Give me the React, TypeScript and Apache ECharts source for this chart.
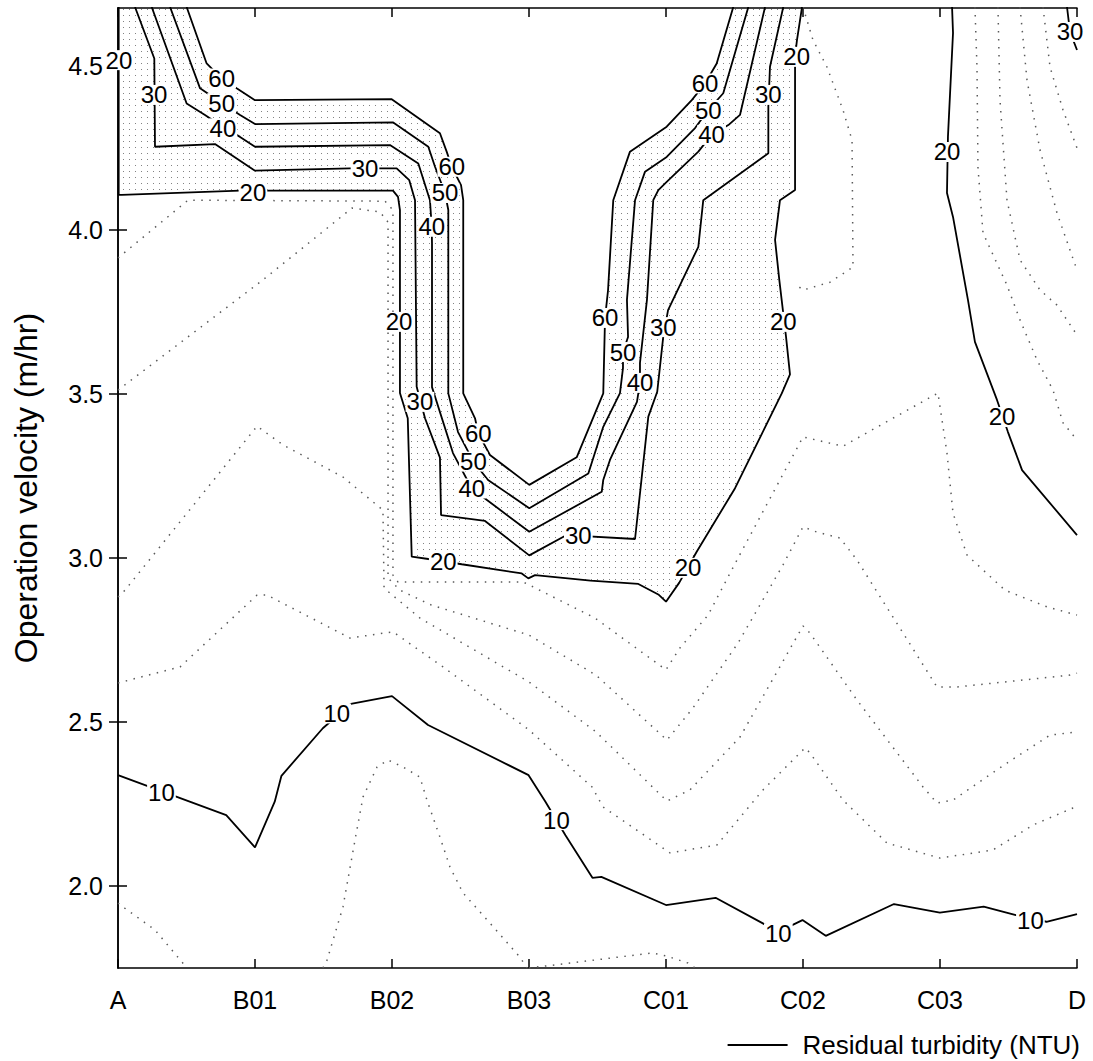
import React, { useEffect, useRef } from 'react';
import * as echarts from 'echarts';

// Sampling sites along the x axis and velocity tick values
const sites = ['A', 'B01', 'B02', 'B03', 'C01', 'C02', 'C03', 'D'];
const velocityTicks = [2.0, 2.5, 3.0, 3.5, 4.0, 4.5];
const velocityMin = 1.75;
const velocityMax = 4.677;

const LEGEND = 'Residual turbidity (NTU)';

// Labelled contours (every 10 NTU): [site position, velocity]
const c10 = [
  [0, 2.338], [0.79, 2.216], [1.0, 2.118], [1.144, 2.257], [1.193, 2.336], [1.495, 2.481],
  [1.7, 2.555], [2.0, 2.579], [2.263, 2.491], [2.997, 2.338], [3.12, 2.257], [3.266, 2.155],
  [3.463, 2.025], [3.528, 2.028], [4.0, 1.942], [4.362, 1.964], [4.707, 1.886], [4.82, 1.86],
  [4.996, 1.896], [5.166, 1.848], [5.664, 1.945], [5.999, 1.919], [6.319, 1.937], [6.554, 1.911],
  [6.777, 1.891], [7.0, 1.914],
];
const c20 = [
  [0.005, 4.68], [0.005, 4.107], [0.027, 4.107], [0.891, 4.12], [2.007, 4.12], [2.044, 4.101],
  [2.058, 4.061], [2.058, 3.503], [2.115, 3.426], [2.144, 3.004], [2.265, 2.997], [2.509, 2.981],
  [2.947, 2.953], [2.995, 2.938], [3.044, 2.948], [3.449, 2.931], [3.798, 2.921], [3.944, 2.889],
  [4.0, 2.867], [4.097, 2.925], [4.224, 3.019], [4.504, 3.213], [4.845, 3.502], [4.905, 3.56],
  [4.876, 3.675], [4.827, 3.848], [4.796, 3.97], [4.832, 4.091], [4.942, 4.122], [4.942, 4.53],
  [4.956, 4.579], [4.993, 4.68],
];
const c20East = [
  [6.088, 4.68], [6.095, 4.601], [6.058, 4.284], [6.051, 4.113], [6.095, 4.04], [6.204, 3.787],
  [6.255, 3.659], [6.416, 3.482], [6.496, 3.384], [6.599, 3.268], [7.0, 3.07],
];
const c30 = [
  [0.124, 4.68], [0.265, 4.523], [0.27, 4.254], [0.708, 4.262], [1.0, 4.181], [1.693, 4.188],
  [2.034, 4.188], [2.126, 4.152], [2.168, 4.091], [2.18, 3.522], [2.241, 3.426], [2.35, 3.306],
  [2.358, 3.131], [2.679, 3.113], [3.002, 3.008], [3.275, 3.07], [3.774, 3.058], [3.871, 3.431],
  [3.936, 3.507], [3.98, 3.675], [4.015, 3.756], [4.236, 3.949], [4.272, 4.091], [4.747, 4.234],
  [4.747, 4.376], [4.759, 4.498], [4.856, 4.68],
];
const c30East = [[6.927, 4.68], [6.949, 4.604], [7.0, 4.549]];
const c40 = [
  [0.246, 4.68], [0.501, 4.386], [0.635, 4.351], [0.766, 4.314], [0.891, 4.284], [1.0, 4.254],
  [1.985, 4.259], [2.192, 4.203], [2.277, 4.091], [2.29, 4.01], [2.292, 3.959], [2.292, 3.521],
  [2.445, 3.32], [2.582, 3.212], [2.693, 3.177], [3.002, 3.08], [3.531, 3.202], [3.542, 3.238],
  [3.591, 3.299], [3.788, 3.476], [3.81, 3.534], [3.81, 3.595], [3.861, 3.787], [3.907, 4.091],
  [3.944, 4.122], [4.005, 4.147], [4.236, 4.239], [4.333, 4.29], [4.455, 4.32], [4.54, 4.351],
  [4.723, 4.68],
];
const c50 = [
  [0.38, 4.68], [0.599, 4.432], [0.757, 4.387], [0.891, 4.351], [1.0, 4.323], [2.009, 4.328],
  [2.265, 4.254], [2.314, 4.193], [2.387, 4.113], [2.411, 4.061], [2.411, 3.502], [2.482, 3.384],
  [2.594, 3.294], [2.701, 3.238], [3.002, 3.152], [3.433, 3.258], [3.542, 3.4], [3.664, 3.503],
  [3.686, 3.579], [3.686, 3.628], [3.723, 3.674], [3.715, 3.787], [3.774, 4.091], [3.847, 4.178],
  [4.005, 4.223], [4.212, 4.311], [4.309, 4.366], [4.418, 4.417], [4.601, 4.68],
];
const c60 = [
  [0.501, 4.68], [0.647, 4.508], [0.757, 4.462], [0.866, 4.432], [1.0, 4.396], [1.998, 4.399],
  [2.35, 4.295], [2.399, 4.239], [2.436, 4.193], [2.504, 4.137], [2.52, 4.091], [2.52, 3.502],
  [2.606, 3.426], [2.63, 3.38], [2.715, 3.314], [3.002, 3.223], [3.348, 3.307], [3.542, 3.502],
  [3.555, 3.732], [3.577, 3.817], [3.615, 4.091], [3.737, 4.239], [4.005, 4.315], [4.188, 4.396],
  [4.285, 4.447], [4.37, 4.508], [4.491, 4.68],
];

// Intermediate contours (every 2 NTU) outside the dense band
const d8West = [[0, 1.948], [0.051, 1.932], [0.27, 1.866], [0.467, 1.768], [0.504, 1.75]];
const d8Mid = [
  [1.496, 1.75], [1.526, 1.774], [1.642, 1.936], [1.73, 2.14], [1.788, 2.271], [1.891, 2.363],
  [1.971, 2.384], [2.08, 2.363], [2.204, 2.332], [2.255, 2.262], [2.35, 2.149], [2.423, 2.058],
  [2.518, 1.979], [2.715, 1.887], [2.934, 1.783], [2.985, 1.75],
];
const d8East = [
  [3.0, 1.75], [3.299, 1.765], [3.591, 1.78], [3.898, 1.796], [4.0, 1.787], [4.161, 1.765], [4.212, 1.75],
];
const d12 = [
  [0, 2.619], [0.453, 2.668], [1.015, 2.887], [1.088, 2.887], [1.693, 2.756], [2.007, 2.775],
  [2.372, 2.668], [3.0, 2.476], [3.46, 2.302], [3.54, 2.241], [4.029, 2.101], [4.372, 2.125],
  [4.708, 2.293], [5.015, 2.421], [5.051, 2.406], [5.292, 2.262], [5.613, 2.131], [6.0, 2.085],
  [6.387, 2.11], [6.679, 2.186], [6.971, 2.238], [7.0, 2.241],
];
const d14 = [
  [0, 2.881], [0.051, 2.902], [1.015, 3.402], [1.204, 3.345], [1.642, 3.247], [1.934, 3.146],
  [1.942, 2.908], [2.204, 2.817], [3.0, 2.622], [3.489, 2.47], [4.007, 2.259], [4.175, 2.293],
  [4.54, 2.454], [5.0, 2.793], [5.051, 2.771], [5.394, 2.567], [5.876, 2.302], [5.978, 2.253],
  [6.095, 2.262], [6.489, 2.375], [6.803, 2.46], [7.0, 2.47],
];
const d16 = [
  [0, 3.512], [1.058, 3.848], [1.708, 4.067], [1.912, 4.055], [1.971, 4.024], [1.971, 2.939],
  [2.058, 2.902], [2.285, 2.857], [3.0, 2.765], [3.489, 2.643], [4.007, 2.445], [4.197, 2.543],
  [4.526, 2.741], [4.854, 2.979], [5.0, 3.095], [5.102, 3.079], [5.27, 3.061], [5.394, 2.994],
  [5.978, 2.607], [6.124, 2.607], [6.949, 2.643], [7.0, 2.649],
];
const d18 = [
  [0, 3.915], [0.511, 4.091], [1.949, 4.088], [2.007, 4.061], [2.007, 2.948], [2.044, 2.927],
  [2.956, 2.927], [3.044, 2.909], [3.482, 2.817], [4.0, 2.659], [4.102, 2.726], [4.307, 2.826],
  [4.518, 2.994], [5.0, 3.369], [5.292, 3.341], [5.985, 3.503], [6.051, 3.32], [6.095, 3.137],
  [6.197, 3.009], [6.474, 2.902], [6.781, 2.851], [7.0, 2.826],
];
const d18North = [
  [5.0, 4.68], [5.073, 4.579], [5.175, 4.497], [5.292, 4.366], [5.358, 4.274], [5.365, 3.887],
  [5.197, 3.841], [5.0, 3.817], [4.956, 3.832],
];
const d22 = [
  [6.255, 4.68], [6.27, 4.497], [6.277, 4.192], [6.314, 3.991], [6.438, 3.878], [6.489, 3.832],
  [6.584, 3.726], [6.708, 3.604], [6.825, 3.512], [6.898, 3.412], [7.0, 3.36],
];
const d24 = [
  [6.423, 4.68], [6.438, 4.396], [6.489, 4.091], [6.584, 3.909], [6.73, 3.817], [6.854, 3.771], [7.0, 3.68],
];
const d26 = [[6.584, 4.68], [6.635, 4.457], [6.73, 4.244], [6.854, 4.052], [7.0, 3.878]];
const d28 = [[6.752, 4.68], [6.803, 4.497], [6.898, 4.366], [7.0, 4.25]];

// Contour labels: [site position, velocity, level]
const contourLabels: [number, number, string][] = [
  [0.007, 4.518, '20'], [0.263, 4.412, '30'], [0.757, 4.462, '60'], [0.757, 4.387, '50'],
  [0.766, 4.31, '40'], [0.985, 4.113, '20'], [1.803, 4.189, '30'], [2.436, 4.193, '60'],
  [2.387, 4.113, '50'], [2.29, 4.01, '40'], [2.051, 3.72, '20'], [2.204, 3.476, '30'],
  [2.63, 3.38, '60'], [2.594, 3.294, '50'], [2.582, 3.212, '40'], [2.374, 2.989, '20'],
  [3.36, 3.07, '30'], [4.161, 2.97, '20'], [3.555, 3.732, '60'], [3.686, 3.628, '50'],
  [3.81, 3.534, '40'], [3.98, 3.704, '30'], [4.856, 3.72, '20'], [4.285, 4.447, '60'],
  [4.309, 4.366, '50'], [4.333, 4.29, '40'], [4.747, 4.412, '30'], [4.954, 4.528, '20'],
  [6.051, 4.238, '20'], [6.453, 3.43, '20'], [6.949, 4.604, '30'],
  [0.317, 2.284, '10'], [1.597, 2.526, '10'], [3.2, 2.201, '10'], [4.82, 1.856, '10'], [6.66, 1.896, '10'],
];

const FONT = '"Liberation Sans", Arial, Helvetica, sans-serif';

function stipplePattern() {
  const cv = document.createElement('canvas');
  cv.width = 6;
  cv.height = 6;
  const g = cv.getContext('2d');
  if (g) {
    g.fillStyle = '#828282';
    g.fillRect(3, 3, 1, 1);
  }
  return { image: cv.toDataURL(), repeat: 'repeat', imageWidth: 6, imageHeight: 6 };
}

export default function App() {
  const ref = useRef<HTMLDivElement>(null);

  useEffect(() => {
    document.body.style.margin = '0';
    const chart = echarts.init(ref.current as HTMLDivElement, null, { renderer: 'svg' });

    const solid = [c10, c20, c20East, c30, c30East, c40, c50, c60].map((d) => ({
      type: 'line',
      name: LEGEND,
      data: d,
      symbol: 'none',
      itemStyle: { color: '#000' },
      lineStyle: { color: '#000', width: 1.8 },
      z: 3,
    }));

    const dotted = [d8West, d8Mid, d8East, d12, d14, d16, d18, d18North, d22, d24, d26, d28].map(
      (d, i) => ({
        type: 'line',
        name: 'minor-' + i,
        data: d,
        symbol: 'none',
        lineStyle: { color: '#5a5a5a', width: 1.5, type: [1.5, 6.5] },
        z: 2,
      })
    );

    const band = [...c20, ...c60.slice().reverse()];
    const pattern = stipplePattern();

    const axisLine = { show: true, lineStyle: { color: '#000', width: 1.5 } };
    const axisTick = { show: true, inside: true, length: 9, lineStyle: { color: '#000', width: 1.5 } };

    chart.setOption({
      animation: false,
      backgroundColor: '#fff',
      grid: { left: 118, right: 16, top: 8, bottom: 93, containLabel: false },
      legend: {
        data: [LEGEND],
        right: 8,
        top: 1027,
        icon: 'path://M0 0H60V2H0Z',
        itemWidth: 60,
        itemHeight: 2,
        itemStyle: { color: '#000' },
        textStyle: { fontFamily: FONT, fontSize: 26, color: '#000', padding: [0, 0, 0, 10] },
      },
      xAxis: [
        {
          type: 'value',
          min: 0,
          max: 7,
          interval: 1,
          axisLine,
          axisTick,
          splitLine: { show: false },
          axisLabel: {
            formatter: (v: number) => sites[Math.round(v)] ?? '',
            fontFamily: FONT,
            fontSize: 25,
            color: '#000',
            margin: 19,
          },
        },
        {
          type: 'value',
          position: 'top',
          min: 0,
          max: 7,
          interval: 1,
          axisLine,
          axisTick,
          splitLine: { show: false },
          axisLabel: { show: false },
        },
      ],
      yAxis: [
        {
          type: 'value',
          min: velocityMin,
          max: velocityMax,
          axisLine,
          axisTick: { ...axisTick, customValues: velocityTicks },
          splitLine: { show: false },
          axisLabel: {
            customValues: velocityTicks,
            formatter: (v: number) => v.toFixed(1),
            fontFamily: FONT,
            fontSize: 25,
            color: '#000',
            margin: 15,
          },
          name: 'Operation velocity (m/hr)',
          nameLocation: 'middle',
          nameGap: 76,
          nameTextStyle: { fontFamily: FONT, fontSize: 32, color: '#000' },
        },
        {
          type: 'value',
          position: 'right',
          min: velocityMin,
          max: velocityMax,
          axisLine,
          axisTick: { ...axisTick, customValues: velocityTicks },
          splitLine: { show: false },
          axisLabel: { show: false },
        },
      ],
      series: [
        {
          type: 'custom',
          name: 'band',
          data: [[3.5, 3.0]],
          z: 1,
          silent: true,
          renderItem: (_p: any, api: any) => ({
            type: 'polygon',
            shape: { points: band.map((p) => api.coord(p)) },
            style: { fill: pattern, stroke: null },
          }),
        },
        ...dotted,
        ...solid,
        {
          type: 'scatter',
          name: 'levels',
          data: contourLabels,
          symbol: 'circle',
          symbolSize: 0,
          itemStyle: { color: 'transparent', opacity: 1 },
          z: 6,
          label: {
            show: true,
            position: 'inside',
            formatter: (p: any) => p.value[2],
            fontFamily: FONT,
            fontSize: 24,
            lineHeight: 20,
            color: '#000',
            opacity: 1,
            textBorderWidth: 0,
            backgroundColor: '#fff',
            padding: [0, 1],
          },
          labelLayout: { hideOverlap: false },
        },
      ],
    });

    return () => chart.dispose();
  }, []);

  return <div ref={ref} style={{ width: 1093, height: 1061 }} />;
}
